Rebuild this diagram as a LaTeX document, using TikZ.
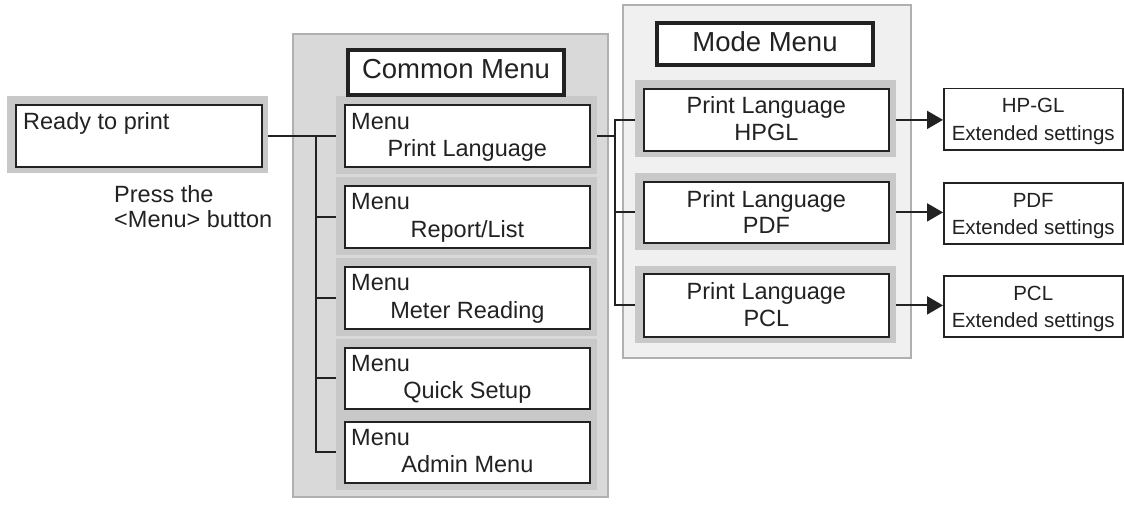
\documentclass[tikz,border=0pt]{standalone}
\usepackage{fontspec}
\setmainfont{Liberation Sans}
\usetikzlibrary{arrows.meta,calc}
\definecolor{panelA}{HTML}{D9D9D9}
\definecolor{panelB}{HTML}{F0F0F0}
\definecolor{bandc}{HTML}{C8C8C8}
\definecolor{edgec}{HTML}{B0B0B0}
\definecolor{ink}{HTML}{222222}
\pgfdeclarelayer{back}
\pgfdeclarelayer{mid}
\pgfsetlayers{back,mid,main}
\newcommand\fmain{\fontsize{23.5}{28}\selectfont}
\newcommand\ftitle{\fontsize{27.5}{32}\selectfont}
\newcommand\fsmall{\fontsize{20.5}{24}\selectfont}
\begin{document}
\begin{tikzpicture}[x=1pt,y=-1pt,
  wbox/.style={draw=ink,line width=1.8pt,fill=white,inner sep=0pt,anchor=north west},
  tbox/.style={draw=ink,line width=4pt,fill=white,inner sep=0pt,anchor=north west},
  ebox/.style={draw=ink,line width=1.5pt,fill=white,inner sep=0pt,anchor=north west},
  txt/.style={font=\fmain,text=ink,inner sep=0pt},
  ttl/.style={font=\ftitle,text=ink,inner sep=0pt,anchor=base},
  stxt/.style={font=\fsmall,text=ink,inner sep=0pt,anchor=base},
  band/.style={fill=bandc},
  conn/.style={draw=ink,line width=2pt},
  arr/.style={conn,-{Triangle[length=16pt,width=18pt]}}]
\useasboundingbox (0,0) rectangle (1124,508);
% panels
\begin{pgfonlayer}{back}
\fill[white] (0,0) rectangle (1124,508);
\draw[fill=panelA,draw=edgec,line width=1.5pt] (293,34) rectangle (608,497);
\draw[fill=panelB,draw=edgec,line width=1.5pt] (623,5) rectangle (911,358);
\end{pgfonlayer}
% bands
\fill[band] (7,96) rectangle (268,173);
\fill[band] (336,96) rectangle (597,174);
\fill[band] (336,177) rectangle (597,255);
\fill[band] (336,258) rectangle (597,336);
\fill[band] (336,339) rectangle (597,490);
\fill[band] (635,80) rectangle (896,157);
\fill[band] (635,173) rectangle (896,250);
\fill[band] (635,266) rectangle (896,343);
% ready
\node[wbox,minimum width=246pt,minimum height=62pt] (ready) at (15,104) {};
\node[txt,anchor=base west] (readyt) at (23,130) {Ready to print};
\node[txt,anchor=base west] (press1) at (114,202) {Press the};
\node[txt,anchor=base west] (press2) at (114,227) {<Menu> button};
% common menu
\node[tbox,minimum width=216pt,minimum height=45pt] (ctitle) at (346,48) {};
\node[ttl] (ctitlet) at ($(ctitle.north)+(0,31)$) {Common Menu};
\node[wbox,minimum width=245pt,minimum height=62pt] (c1) at (344,104) {};
\node[wbox,minimum width=245pt,minimum height=62pt] (c2) at (344,185) {};
\node[wbox,minimum width=245pt,minimum height=62pt] (c3) at (344,266) {};
\node[wbox,minimum width=245pt,minimum height=61pt] (c4) at (344,347) {};
\node[wbox,minimum width=245pt,minimum height=61pt] (c5) at (344,421) {};
\node[txt,anchor=base west] (c1a) at ($(c1.north west)+(7,25)$) {Menu};
\node[txt,anchor=base] (c1b) at ($(c1.north)+(0,53)$) {Print Language};
\node[txt,anchor=base west] (c2a) at ($(c2.north west)+(7,24)$) {Menu};
\node[txt,anchor=base] (c2b) at ($(c2.north)+(0,52)$) {Report/List};
\node[txt,anchor=base west] (c3a) at ($(c3.north west)+(7,24)$) {Menu};
\node[txt,anchor=base] (c3b) at ($(c3.north)+(0,52)$) {Meter Reading};
\node[txt,anchor=base west] (c4a) at ($(c4.north west)+(7,24)$) {Menu};
\node[txt,anchor=base] (c4b) at ($(c4.north)+(0,51)$) {Quick Setup};
\node[txt,anchor=base west] (c5a) at ($(c5.north west)+(7,24)$) {Menu};
\node[txt,anchor=base] (c5b) at ($(c5.north)+(0,51)$) {Admin Menu};
% mode menu
\node[tbox,minimum width=216pt,minimum height=42pt] (mtitle) at (655,21) {};
\node[ttl] (mtitlet) at ($(mtitle.north)+(0,31)$) {Mode Menu};
\node[wbox,minimum width=245pt,minimum height=62pt] (m1) at (643,88) {};
\node[wbox,minimum width=245pt,minimum height=61pt] (m2) at (643,181) {};
\node[wbox,minimum width=245pt,minimum height=63pt] (m3) at (643,273) {};
\node[txt,anchor=base] (m1a) at ($(m1.north)+(0,26)$) {Print Language};
\node[txt,anchor=base] (m1b) at ($(m1.north)+(0,52)$) {HPGL};
\node[txt,anchor=base] (m2a) at ($(m2.north)+(0,26)$) {Print Language};
\node[txt,anchor=base] (m2b) at ($(m2.north)+(0,52)$) {PDF};
\node[txt,anchor=base] (m3a) at ($(m3.north)+(0,26)$) {Print Language};
\node[txt,anchor=base] (m3b) at ($(m3.north)+(0,53)$) {PCL};
% extended
\node[ebox,minimum width=179pt,minimum height=61pt] (e1) at (943,88) {};
\node[ebox,minimum width=179pt,minimum height=61pt] (e2) at (943,182) {};
\node[ebox,minimum width=179pt,minimum height=61pt] (e3) at (943,275) {};
\node[stxt] (e1a) at ($(e1.north)+(0,25)$) {HP-GL};
\node[stxt] (e1b) at ($(e1.north)+(0,52)$) {Extended settings};
\node[stxt] (e2a) at ($(e2.north)+(0,25)$) {PDF};
\node[stxt] (e2b) at ($(e2.north)+(0,52)$) {Extended settings};
\node[stxt] (e3a) at ($(e3.north)+(0,25)$) {PCL};
\node[stxt] (e3b) at ($(e3.north)+(0,52)$) {Extended settings};
% connectors
\coordinate (lt) at (316,0);
\coordinate (rt) at (615,0);
\begin{pgfonlayer}{mid}
\draw[conn] (ready.east) -- (c1.west);
\draw[conn] (lt |- c1.west) |- (c5.west);
\draw[conn] (lt |- c2.west) -- (c2.west);
\draw[conn] (lt |- c3.west) -- (c3.west);
\draw[conn] (lt |- c4.west) -- (c4.west);
\draw[conn] (c1.east) -- (rt |- c1.east);
\draw[conn] (m1.west) -| (rt |- m3.west) -- (m3.west);
\draw[conn] (rt |- m2.west) -- (m2.west);
\draw[arr] (m1.east) -- (m1.east -| e1.west);
\draw[arr] (m2.east) -- (m2.east -| e2.west);
\draw[arr] (m3.east) -- (m3.east -| e3.west);
\end{pgfonlayer}
\end{tikzpicture}
\end{document}
